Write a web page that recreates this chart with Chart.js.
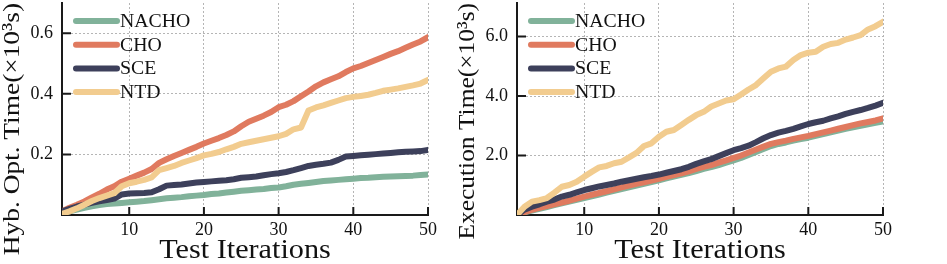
<!DOCTYPE html>
<html>
<head>
<meta charset="utf-8">
<script src="https://cdn.jsdelivr.net/npm/chart.js@4.4.1/dist/chart.umd.min.js"></script>
<style>
  html, body { margin: 0; padding: 0; background: #ffffff; }
  body { width: 947px; height: 264px; position: relative; overflow: hidden; }
  .panel { position: absolute; top: 0; }
  canvas { display: block; }
</style>
</head>
<body>
<div class="panel" style="left:0px"><canvas id="hyb" width="455" height="264"></canvas></div>
<div class="panel" style="left:455px"><canvas id="exec" width="492" height="264"></canvas></div>
<script>
// ---- data ----
const iterations = [1,2,3,4,5,6,7,8,9,10,11,12,13,14,15,16,17,18,19,20,21,22,23,24,25,
  26,27,28,29,30,31,32,33,34,35,36,37,38,39,40,41,42,43,44,45,46,47,48,49,50];

const seriesNames = ['NACHO', 'CHO', 'SCE', 'NTD'];

// Hybrid optimisation time (x10^3 s)
const nachoHyb = [0.006,0.012,0.018,0.024,0.029,0.033,0.036,0.038,0.040,0.042,0.044,0.046,0.049,0.052,0.055,0.057,0.059,0.062,0.064,0.066,
  0.069,0.071,0.074,0.077,0.080,0.082,0.084,0.086,0.089,0.091,0.095,0.100,0.103,0.106,0.109,0.112,0.114,0.116,0.118,0.120,
  0.122,0.123,0.125,0.126,0.127,0.128,0.129,0.130,0.132,0.134];
const choHyb = [0.012,0.024,0.034,0.045,0.058,0.070,0.084,0.095,0.110,0.120,0.130,0.140,0.152,0.172,0.184,0.195,0.205,0.215,0.225,0.236,
  0.245,0.254,0.264,0.276,0.293,0.308,0.318,0.328,0.340,0.356,0.364,0.376,0.392,0.408,0.425,0.438,0.448,0.458,0.472,0.484,
  0.492,0.502,0.512,0.522,0.532,0.541,0.552,0.563,0.573,0.587];
const sceHyb = [0.012,0.020,0.028,0.034,0.040,0.045,0.049,0.054,0.068,0.071,0.072,0.073,0.075,0.085,0.097,0.099,0.101,0.104,0.107,0.109,
  0.111,0.113,0.115,0.118,0.123,0.125,0.127,0.131,0.135,0.138,0.142,0.148,0.155,0.162,0.166,0.169,0.173,0.182,0.193,0.195,
  0.197,0.199,0.201,0.203,0.205,0.207,0.209,0.210,0.211,0.215];
const ntdHyb = [0.004,0.012,0.022,0.034,0.046,0.056,0.064,0.072,0.095,0.105,0.110,0.116,0.124,0.148,0.155,0.162,0.172,0.180,0.188,0.197,
  0.202,0.208,0.217,0.225,0.235,0.240,0.245,0.250,0.255,0.260,0.268,0.283,0.289,0.345,0.355,0.362,0.370,0.378,0.386,0.390,
  0.393,0.397,0.403,0.410,0.414,0.418,0.423,0.428,0.434,0.446];

// Execution time (x10^3 s)
const nachoExec = [0.00,0.09,0.15,0.21,0.27,0.33,0.39,0.45,0.51,0.57,0.63,0.69,0.75,0.81,0.87,0.93,0.99,1.05,1.11,1.17,
  1.23,1.29,1.35,1.41,1.48,1.55,1.61,1.68,1.76,1.84,1.92,2.02,2.12,2.22,2.32,2.39,2.44,2.50,2.55,2.60,
  2.66,2.72,2.78,2.84,2.90,2.95,3.00,3.05,3.10,3.15];
const choExec = [0.00,0.10,0.17,0.24,0.30,0.36,0.42,0.48,0.55,0.62,0.68,0.74,0.80,0.86,0.93,0.99,1.05,1.10,1.16,1.22,
  1.28,1.34,1.40,1.47,1.55,1.62,1.68,1.76,1.84,1.92,2.00,2.10,2.20,2.30,2.39,2.45,2.50,2.56,2.61,2.66,
  2.72,2.78,2.84,2.90,2.96,3.02,3.08,3.13,3.18,3.25];
const sceExec = [0.00,0.18,0.28,0.36,0.45,0.52,0.62,0.68,0.76,0.84,0.90,0.96,1.01,1.06,1.12,1.17,1.22,1.27,1.31,1.36,
  1.42,1.48,1.54,1.62,1.72,1.80,1.88,1.98,2.08,2.18,2.25,2.33,2.45,2.58,2.69,2.77,2.83,2.90,2.98,3.06,
  3.12,3.17,3.25,3.32,3.40,3.47,3.53,3.60,3.68,3.77];
const ntdExec = [0.00,0.28,0.45,0.50,0.57,0.75,0.95,1.01,1.12,1.29,1.45,1.60,1.65,1.74,1.79,1.94,2.09,2.32,2.41,2.63,
  2.80,2.86,3.03,3.20,3.36,3.47,3.65,3.75,3.85,3.89,4.05,4.22,4.37,4.60,4.82,4.93,4.99,5.21,5.38,5.46,
  5.49,5.66,5.75,5.79,5.90,5.97,6.05,6.24,6.35,6.50];

// ---- ticks & labels ----
const xTicks = [10, 20, 30, 40, 50];
const yTicksHyb = [0.2, 0.4, 0.6];
const yTicksExec = [2, 4, 6];
const xTitle = 'Test Iterations';
const yTitleHyb = 'Hyb. Opt. Time(\u00d710\u00b3s)';
const yTitleExec = 'Execution Time(\u00d710\u00b3s)';

// ---- styles ----
const seriesColors = ['#81b29a', '#e07a5f', '#3d405b', '#f2cc8f'];
const SERIF = '"Liberation Serif", "DejaVu Serif", serif';

function makeDatasets(arrays) {
  return arrays.map((arr, k) => ({
    label: seriesNames[k],
    data: arr.map((v, i) => ({ x: iterations[i], y: v })),
    borderColor: seriesColors[k],
    backgroundColor: seriesColors[k],
    borderWidth: 6,
    borderCapStyle: 'round',
    borderJoinStyle: 'round',
    pointRadius: 0,
    tension: 0,
    fill: false,
    order: 10 - k
  }));
}

const decorPlugin = {
  id: 'decor',
  beforeDatasetsDraw(chart, args, opts) {
    const ctx = chart.ctx;
    const xs = chart.scales.x, ys = chart.scales.y;
    const ca = chart.chartArea;
    ctx.save();
    ctx.strokeStyle = '#1a1a1a';
    ctx.lineWidth = 2;
    ctx.lineCap = 'butt';
    ctx.beginPath();
    xs.ticks.forEach(t => {
      const px = xs.getPixelForValue(t.value);
      ctx.moveTo(px, ca.bottom);
      ctx.lineTo(px, ca.bottom - 8);
    });
    ys.ticks.forEach(t => {
      const py = ys.getPixelForValue(t.value);
      ctx.moveTo(ca.left, py);
      ctx.lineTo(ca.left + 9, py);
    });
    ctx.stroke();
    ctx.restore();
  },
  afterDatasetsDraw(chart, args, opts) {
    const ctx = chart.ctx;
    const ca = chart.chartArea;
    ctx.save();
    // legend
    chart.data.datasets.forEach((ds, k) => {
      const y = ca.top + 18 + k * 23.7;
      ctx.strokeStyle = ds.borderColor;
      ctx.lineWidth = 6;
      ctx.lineCap = 'round';
      ctx.beginPath();
      ctx.moveTo(ca.left + 14, y);
      ctx.lineTo(ca.left + 55, y);
      ctx.stroke();
      ctx.fillStyle = '#111';
      ctx.font = '19px ' + SERIF;
      ctx.textAlign = 'left';
      ctx.textBaseline = 'middle';
      ctx.save();
      ctx.translate(ca.left + 58, y + 1);
      ctx.scale(1.04, 1);
      ctx.fillText(ds.label, 0, 0);
      ctx.restore();
    });
    ctx.restore();

    // x-axis title
    ctx.save();
    ctx.translate((ca.left + ca.right) / 2, 251);
    ctx.scale(1.12, 1);
    ctx.fillStyle = '#111';
    ctx.font = '27px ' + SERIF;
    ctx.textAlign = 'center';
    ctx.textBaseline = 'middle';
    ctx.fillText(xTitle, 0, 0);
    ctx.restore();

    // y-axis title
    ctx.save();
    ctx.translate(opts.titleX, 3);
    ctx.rotate(-Math.PI / 2);
    ctx.scale(opts.stretch, 1);
    ctx.fillStyle = '#111';
    ctx.font = '24px ' + SERIF;
    ctx.textAlign = 'right';
    ctx.textBaseline = 'middle';
    ctx.fillText(opts.yTitle, 0, 0);
    ctx.restore();
  }
};

function makeChart(id, arrays, yMax, yTicks, yTitle, stretch, padRight, fmt) {
  return new Chart(document.getElementById(id), {
    type: 'line',
    data: { datasets: makeDatasets(arrays) },
    options: {
      responsive: false,
      animation: false,
      devicePixelRatio: 1,
      layout: { padding: { left: 0, top: 3, right: padRight, bottom: 0 } },
      plugins: {
        legend: { display: false },
        tooltip: { enabled: false },
        decor: { yTitle: yTitle, titleX: 13, stretch: stretch }
      },
      scales: {
        x: {
          type: 'linear',
          min: 1, max: 50,
          afterBuildTicks: s => { s.ticks = xTicks.map(v => ({ value: v })); },
          afterFit: s => { s.height = 49; s.paddingLeft = 0; s.paddingRight = 0; },
          grid: { display: true, color: '#b5b5b5', lineWidth: 1, drawTicks: false },
          border: { display: true, color: '#1a1a1a', width: 2, dash: [2, 2] },
          ticks: {
            color: '#111', padding: 4, maxRotation: 0,
            font: { family: SERIF, size: 18 },
            callback: v => String(v)
          },
          title: { display: false }
        },
        y: {
          type: 'linear',
          min: 0, max: yMax,
          afterBuildTicks: s => { s.ticks = yTicks.map(v => ({ value: v })); },
          afterFit: s => { s.width = 62; s.paddingTop = 0; s.paddingBottom = 0; },
          grid: { display: true, color: '#b5b5b5', lineWidth: 1, drawTicks: false },
          border: { display: true, color: '#1a1a1a', width: 2, dash: [2, 2] },
          ticks: {
            color: '#111', padding: 9,
            font: { family: SERIF, size: 18 },
            callback: v => fmt(v)
          },
          title: { display: false }
        }
      }
    },
    plugins: [decorPlugin]
  });
}

makeChart('hyb', [nachoHyb, choHyb, sceHyb, ntdHyb], 0.7, yTicksHyb, yTitleHyb, 1.14, 27, v => v.toFixed(1));
makeChart('exec', [nachoExec, choExec, sceExec, ntdExec], 7.13, yTicksExec, yTitleExec, 1.06, 64, v => v.toFixed(1));
</script>
</body>
</html>
